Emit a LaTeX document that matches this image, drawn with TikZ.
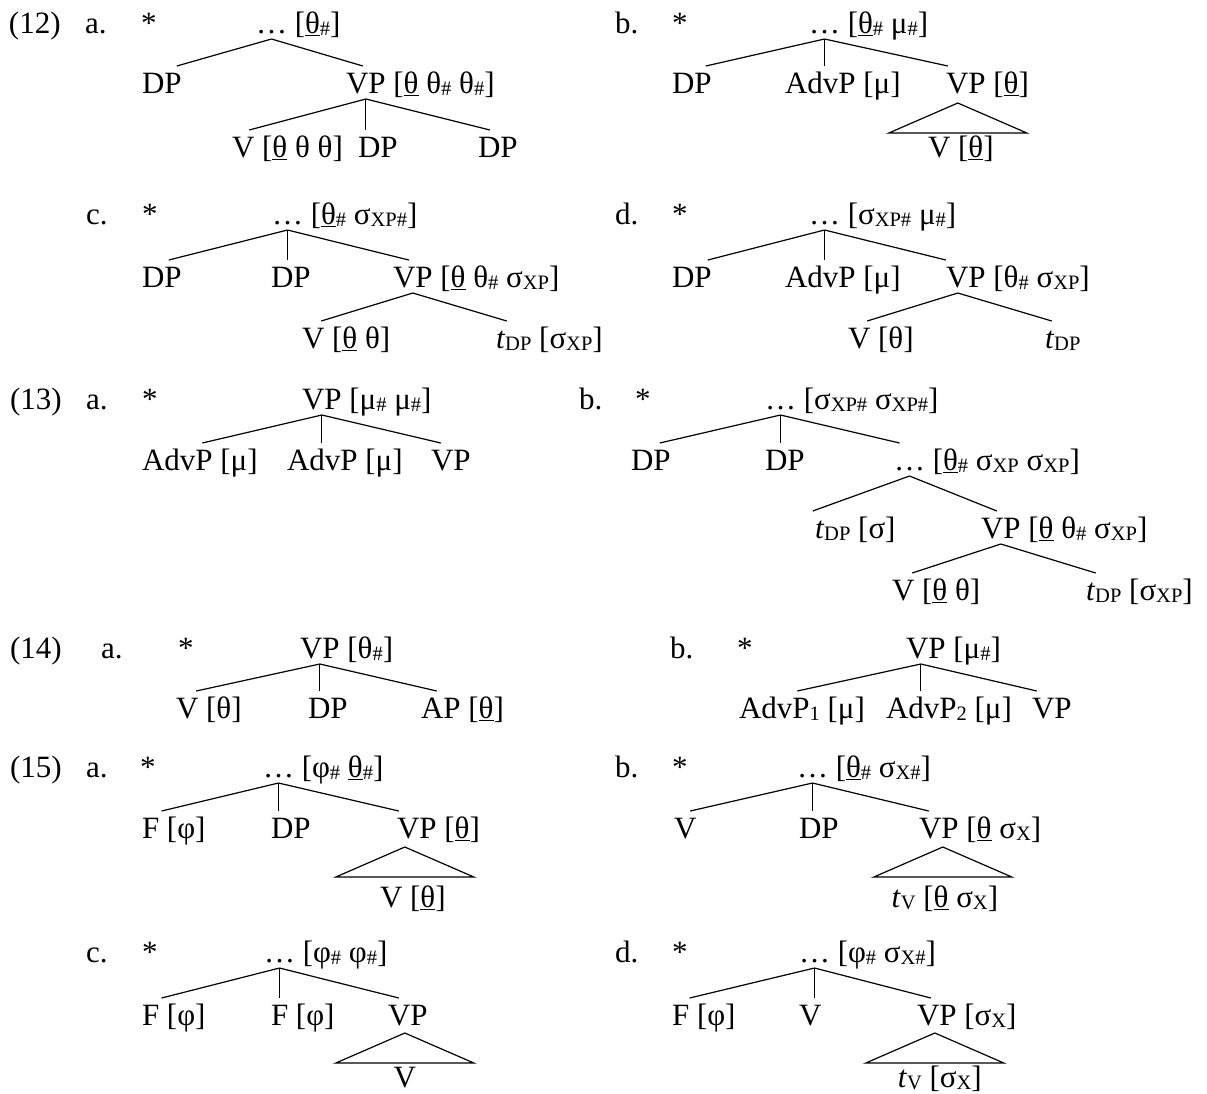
\documentclass[tikz,border=0pt]{standalone}
\usepackage{fontspec}
\setmainfont{Liberation Serif}
\newcommand\fs{\fontsize{31pt}{31pt}\selectfont}
\newcommand\sbx[1]{\raisebox{-2.5pt}{\fontsize{20.5pt}{20.5pt}\selectfont #1}}
\newcommand\ut{\underline{θ}}
\tikzset{
  lab/.style={inner sep=0pt, outer sep=0pt, anchor=base west, font=\fs},
  hd/.style={lab, text height=27pt, text depth=6pt},
  ft/.style={lab},
  br/.style={line width=1.2pt},
  vt/.style={line width=0.9pt},
  tri/.style={line width=1.2pt, line join=miter},
}
\begin{document}
\begin{tikzpicture}[x=1pt,y=-1pt]
\useasboundingbox (0,0) rectangle (1207,1093);
% ---------------- (12) a
\node[lab] (n12) at (9,33) {(12)};
\node[lab] (l12a) at (85,33) {a.};
\node[lab] (s12a) at (141,33) {*};
\node[hd] (t12a-r) at (256,33) {…};
\node[ft] (t12a-rf) at (t12a-r.base east) {\ [\ut\sbx{\#}]};
\node[hd] (t12a-1) at (142,93) {DP};
\node[hd] (t12a-2) at (346,93) {VP};
\node[ft] (t12a-2f) at (t12a-2.base east) {\ [\ut\ θ\sbx{\#} θ\sbx{\#}]};
\node[hd] (t12a-3) at (232,157) {V};
\node[ft] (t12a-3f) at (t12a-3.base east) {\ [\ut\ θ θ]};
\node[hd] (t12a-4) at (358,157) {DP};
\node[hd] (t12a-5) at (478,157) {DP};
\draw[br] (t12a-r.south) -- ([xshift=15pt]t12a-1.north);
\draw[br] (t12a-r.south) -- ([xshift=-3pt]t12a-2.north);
\draw[br] (t12a-2.south) -- ([xshift=6pt]t12a-3.north);
\draw[vt] (t12a-2.south) -- (t12a-2.south |- t12a-4.north);
\draw[br] (t12a-2.south) -- ([xshift=-8pt]t12a-5.north);
% ---------------- (12) b
\node[lab] (l12b) at (615,33) {b.};
\node[lab] (s12b) at (672,33) {*};
\node[hd] (t12b-r) at (809,33) {…};
\node[ft] (t12b-rf) at (t12b-r.base east) {\ [\ut\sbx{\#} μ\sbx{\#}]};
\node[hd] (t12b-1) at (672,93) {DP};
\node[hd] (t12b-2) at (785,93) {AdvP};
\node[ft] (t12b-2f) at (t12b-2.base east) {\ [μ]};
\node[hd] (t12b-3) at (946,93) {VP};
\node[ft] (t12b-3f) at (t12b-3.base east) {\ [\ut]};
\draw[br] (t12b-r.south) -- ([xshift=14pt]t12b-1.north);
\draw[vt] (t12b-r.south) -- (t12b-r.south |- t12b-2.north);
\draw[br] (t12b-r.south) -- ([xshift=-18pt]t12b-3.north);
\coordinate (t12b-ta) at ([xshift=-8pt,yshift=-4pt]t12b-3.south);
\draw[tri] (t12b-ta) -- ++(-69,30) -- ++(138,0) -- cycle;
\node[lab, anchor=base] (t12b-4) at ([xshift=3pt,yshift=-54pt]t12b-ta) {V [\ut]};
% ---------------- (12) c
\node[lab] (l12c) at (86,224) {c.};
\node[lab] (s12c) at (142,224) {*};
\node[hd] (t12c-r) at (272,224) {…};
\node[ft] (t12c-rf) at (t12c-r.base east) {\ [\ut\sbx{\#} σ\sbx{XP\#}]};
\node[hd] (t12c-1) at (142,287) {DP};
\node[hd] (t12c-2) at (271,287) {DP};
\node[hd] (t12c-3) at (393,287) {VP};
\node[ft] (t12c-3f) at (t12c-3.base east) {\ [\ut\ θ\sbx{\#} σ\sbx{XP}]};
\node[hd] (t12c-4) at (302,348) {V};
\node[ft] (t12c-4f) at (t12c-4.base east) {\ [\ut\ θ]};
\node[hd] (t12c-5) at (496,348) {\textit{t}\sbx{DP}};
\node[ft] (t12c-5f) at (t12c-5.base east) {\ [σ\sbx{XP}]};
\draw[br] (t12c-r.south) -- ([xshift=7pt]t12c-1.north);
\draw[vt] (t12c-r.south) -- (t12c-r.south |- t12c-2.north);
\draw[br] (t12c-r.south) -- ([xshift=-4pt]t12c-3.north);
\draw[br] (t12c-3.south) -- ([xshift=8pt]t12c-4.north);
\draw[br] (t12c-3.south) -- ([xshift=-7pt]t12c-5.north);
% ---------------- (12) d
\node[lab] (l12d) at (615,224) {d.};
\node[lab] (s12d) at (672,224) {*};
\node[hd] (t12d-r) at (809,224) {…};
\node[ft] (t12d-rf) at (t12d-r.base east) {\ [σ\sbx{XP\#} μ\sbx{\#}]};
\node[hd] (t12d-1) at (672,287) {DP};
\node[hd] (t12d-2) at (785,287) {AdvP};
\node[ft] (t12d-2f) at (t12d-2.base east) {\ [μ]};
\node[hd] (t12d-3) at (946,287) {VP};
\node[ft] (t12d-3f) at (t12d-3.base east) {\ [θ\sbx{\#} σ\sbx{XP}]};
\node[hd] (t12d-4) at (848,348) {V};
\node[ft] (t12d-4f) at (t12d-4.base east) {\ [θ]};
\node[hd] (t12d-5) at (1045,348) {\textit{t}\sbx{DP}};
\coordinate (t12d-j) at ([xshift=-8pt]t12d-3.south);
\draw[br] (t12d-r.south) -- ([xshift=16pt]t12d-1.north);
\draw[vt] (t12d-r.south) -- (t12d-r.south |- t12d-2.north);
\draw[br] (t12d-r.south) -- ([xshift=-20pt]t12d-3.north);
\draw[br] (t12d-j) -- ([xshift=8pt]t12d-4.north);
\draw[br] (t12d-j) -- ([xshift=-11pt]t12d-5.north);
% ---------------- (13) a
\node[lab] (n13) at (10,409) {(13)};
\node[lab] (l13a) at (86,409) {a.};
\node[lab] (s13a) at (142,409) {*};
\node[hd] (t13a-r) at (302,409) {VP};
\node[ft] (t13a-rf) at (t13a-r.base east) {\ [μ\sbx{\#} μ\sbx{\#}]};
\node[hd] (t13a-1) at (142,470) {AdvP};
\node[ft] (t13a-1f) at (t13a-1.base east) {\ [μ]};
\node[hd] (t13a-2) at (287,470) {AdvP};
\node[ft] (t13a-2f) at (t13a-2.base east) {\ [μ]};
\node[hd] (t13a-3) at (431,470) {VP};
\draw[br] (t13a-r.south) -- ([xshift=25pt]t13a-1.north);
\draw[vt] (t13a-r.south) -- (t13a-r.south |- t13a-2.north);
\draw[br] (t13a-r.south) -- ([xshift=-10pt]t13a-3.north);
% ---------------- (13) b
\node[lab] (l13b) at (579,409) {b.};
\node[lab] (s13b) at (635,409) {*};
\node[hd] (t13b-r) at (765,409) {…};
\node[ft] (t13b-rf) at (t13b-r.base east) {\ [σ\sbx{XP\#} σ\sbx{XP\#}]};
\node[hd] (t13b-1) at (631,470) {DP};
\node[hd] (t13b-2) at (765,470) {DP};
\node[hd] (t13b-3) at (894,470) {…};
\node[ft] (t13b-3f) at (t13b-3.base east) {\ [\ut\sbx{\#} σ\sbx{XP} σ\sbx{XP}]};
\node[hd] (t13b-4) at (815,538) {\textit{t}\sbx{DP}};
\node[ft] (t13b-4f) at (t13b-4.base east) {\ [σ]};
\node[hd] (t13b-5) at (981,538) {VP};
\node[ft] (t13b-5f) at (t13b-5.base east) {\ [\ut\ θ\sbx{\#} σ\sbx{XP}]};
\node[hd] (t13b-6) at (892,600) {V};
\node[ft] (t13b-6f) at (t13b-6.base east) {\ [\ut\ θ]};
\node[hd] (t13b-7) at (1086,600) {\textit{t}\sbx{DP}};
\node[ft] (t13b-7f) at (t13b-7.base east) {\ [σ\sbx{XP}]};
\draw[br] (t13b-r.south) -- ([xshift=9pt]t13b-1.north);
\draw[vt] (t13b-r.south) -- (t13b-r.south |- t13b-2.north);
\draw[br] (t13b-r.south) -- ([xshift=-10pt]t13b-3.north);
\draw[br] (t13b-3.south) -- ([xshift=-20pt]t13b-4.north);
\draw[br] (t13b-3.south) -- ([xshift=-4pt]t13b-5.north);
\draw[br] (t13b-5.south) -- ([xshift=9pt]t13b-6.north);
\draw[br] (t13b-5.south) -- ([xshift=-8pt]t13b-7.north);
% ---------------- (14) a
\node[lab] (n14) at (10,658) {(14)};
\node[lab] (l14a) at (101,658) {a.};
\node[lab] (s14a) at (178,658) {*};
\node[hd] (t14a-r) at (300,658) {VP};
\node[ft] (t14a-rf) at (t14a-r.base east) {\ [θ\sbx{\#}]};
\node[hd] (t14a-1) at (176,718) {V};
\node[ft] (t14a-1f) at (t14a-1.base east) {\ [θ]};
\node[hd] (t14a-2) at (308,718) {DP};
\node[hd] (t14a-3) at (421,718) {AP};
\node[ft] (t14a-3f) at (t14a-3.base east) {\ [\ut]};
\draw[br] (t14a-r.south) -- ([xshift=9pt]t14a-1.north);
\draw[vt] (t14a-r.south) -- (t14a-r.south |- t14a-2.north);
\draw[br] (t14a-r.south) -- ([xshift=-4pt]t14a-3.north);
% ---------------- (14) b
\node[lab] (l14b) at (670,658) {b.};
\node[lab] (s14b) at (737,658) {*};
\node[hd] (t14b-r) at (906,658) {VP};
\node[ft] (t14b-rf) at (t14b-r.base east) {\ [μ\sbx{\#}]};
\node[hd] (t14b-1) at (739,718) {AdvP};
\node[ft] (t14b-1f) at (t14b-1.base east) {\sbx{1}\ [μ]};
\node[hd] (t14b-2) at (886,718) {AdvP};
\node[ft] (t14b-2f) at (t14b-2.base east) {\sbx{2}\ [μ]};
\node[hd] (t14b-3) at (1032,718) {VP};
\coordinate (t14b-j) at ([xshift=-5pt]t14b-r.south);
\draw[br] (t14b-j) -- ([xshift=23pt]t14b-1.north);
\draw[vt] (t14b-j) -- (t14b-j |- t14b-2.north);
\draw[br] (t14b-j) -- ([xshift=-15pt]t14b-3.north);
% ---------------- (15) a
\node[lab] (n15) at (10,777) {(15)};
\node[lab] (l15a) at (86,777) {a.};
\node[lab] (s15a) at (140,777) {*};
\node[hd] (t15a-r) at (263,777) {…};
\node[ft] (t15a-rf) at (t15a-r.base east) {\ [φ\sbx{\#} \ut\sbx{\#}]};
\node[hd] (t15a-1) at (142,838) {F};
\node[ft] (t15a-1f) at (t15a-1.base east) {\ [φ]};
\node[hd] (t15a-2) at (271,838) {DP};
\node[hd] (t15a-3) at (397,838) {VP};
\node[ft] (t15a-3f) at (t15a-3.base east) {\ [\ut]};
\draw[br] (t15a-r.south) -- ([xshift=11pt]t15a-1.north);
\draw[vt] (t15a-r.south) -- (t15a-r.south |- t15a-2.north);
\draw[br] (t15a-r.south) -- ([xshift=-18pt]t15a-3.north);
\coordinate (t15a-ta) at ([xshift=-12pt,yshift=-3pt]t15a-3.south);
\draw[tri] (t15a-ta) -- ++(-69,30) -- ++(138,0) -- cycle;
\node[lab, anchor=base] (t15a-4) at ([xshift=8pt,yshift=-60pt]t15a-ta) {V [\ut]};
% ---------------- (15) b
\node[lab] (l15b) at (615,777) {b.};
\node[lab] (s15b) at (672,777) {*};
\node[hd] (t15b-r) at (797,777) {…};
\node[ft] (t15b-rf) at (t15b-r.base east) {\ [\ut\sbx{\#} σ\sbx{X\#}]};
\node[hd] (t15b-1) at (674,838) {V};
\node[hd] (t15b-2) at (799,838) {DP};
\node[hd] (t15b-3) at (919,838) {VP};
\node[ft] (t15b-3f) at (t15b-3.base east) {\ [\ut\ σ\sbx{X}]};
\draw[br] (t15b-r.south) -- ([xshift=5pt]t15b-1.north);
\draw[vt] (t15b-r.south) -- (t15b-r.south |- t15b-2.north);
\draw[br] (t15b-r.south) -- ([xshift=-10pt]t15b-3.north);
\coordinate (t15b-ta) at ([xshift=4pt,yshift=-3pt]t15b-3.south);
\draw[tri] (t15b-ta) -- ++(-69,30) -- ++(138,0) -- cycle;
\node[lab, anchor=base] (t15b-4) at ([xshift=2pt,yshift=-60pt]t15b-ta) {\textit{t}\sbx{V} [\ut\ σ\sbx{X}]};
% ---------------- (15) c
\node[lab] (l15c) at (86,962) {c.};
\node[lab] (s15c) at (142,962) {*};
\node[hd] (t15c-r) at (264,962) {…};
\node[ft] (t15c-rf) at (t15c-r.base east) {\ [φ\sbx{\#} φ\sbx{\#}]};
\node[hd] (t15c-1) at (142,1025) {F};
\node[ft] (t15c-1f) at (t15c-1.base east) {\ [φ]};
\node[hd] (t15c-2) at (271,1025) {F};
\node[ft] (t15c-2f) at (t15c-2.base east) {\ [φ]};
\node[hd] (t15c-3) at (388,1025) {VP};
\draw[br] (t15c-r.south) -- ([xshift=11pt]t15c-1.north);
\draw[vt] (t15c-r.south) -- (t15c-r.south |- t15c-2.north);
\draw[br] (t15c-r.south) -- ([xshift=-9pt]t15c-3.north);
\coordinate (t15c-ta) at ([xshift=-3pt,yshift=-2pt]t15c-3.south);
\draw[tri] (t15c-ta) -- ++(-69,30) -- ++(138,0) -- cycle;
\node[lab, anchor=base] (t15c-4) at ([yshift=-54pt]t15c-ta) {V};
% ---------------- (15) d
\node[lab] (l15d) at (615,962) {d.};
\node[lab] (s15d) at (672,962) {*};
\node[hd] (t15d-r) at (799,962) {…};
\node[ft] (t15d-rf) at (t15d-r.base east) {\ [φ\sbx{\#} σ\sbx{X\#}]};
\node[hd] (t15d-1) at (672,1025) {F};
\node[ft] (t15d-1f) at (t15d-1.base east) {\ [φ]};
\node[hd] (t15d-2) at (799,1025) {V};
\node[hd] (t15d-3) at (917,1025) {VP};
\node[ft] (t15d-3f) at (t15d-3.base east) {\ [σ\sbx{X}]};
\draw[br] (t15d-r.south) -- ([xshift=9pt]t15d-1.north);
\draw[vt] (t15d-r.south) -- (t15d-r.south |- t15d-2.north);
\draw[br] (t15d-r.south) -- ([xshift=-6pt]t15d-3.north);
\coordinate (t15d-ta) at ([xshift=-2pt,yshift=-2pt]t15d-3.south);
\draw[tri] (t15d-ta) -- ++(-69,30) -- ++(138,0) -- cycle;
\node[lab, anchor=base] (t15d-4) at ([xshift=5pt,yshift=-54pt]t15d-ta) {\textit{t}\sbx{V} [σ\sbx{X}]};
\end{tikzpicture}
\end{document}
